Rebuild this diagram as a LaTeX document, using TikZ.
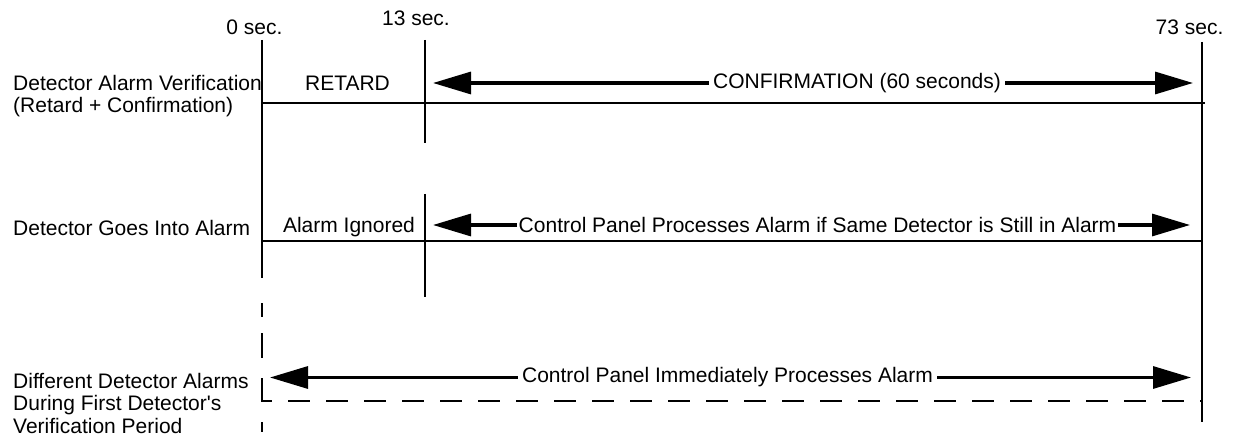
\documentclass[tikz,border=0pt]{standalone}
\usepackage{fontspec}
\setmainfont{Liberation Sans}
\usetikzlibrary{arrows.meta}
\begin{document}
\begin{tikzpicture}[x=1pt,y=-1pt,
  txt/.style={inner sep=0pt, font=\fontsize{21}{22.5}\selectfont},
  lbl/.style={txt, anchor=base west, align=left},
  tick/.style={txt, anchor=base},
  span/.style={txt, inner xsep=4pt, anchor=center},
  tline/.style={line width=2.3pt},
  dline/.style={line width=2.3pt, dash pattern=on 22pt off 16pt},
  arr/.style={line width=3.2pt, -{Triangle[length=38pt,width=22pt]}}]
\useasboundingbox (0,0) rectangle (1233,438);

% time marks
\node[tick] (t0)  at (254.5,35) {0 sec.};
\node[tick] (t13) at (416,26)   {13 sec.};
\node[tick] (t73) at (1189.5,35) {73 sec.};

% vertical lines
\coordinate (v0a) at (262,40);  \coordinate (v0b) at (262,278);
\coordinate (v0c) at (262,303); \coordinate (v0d) at (262,358);
\coordinate (v0g) at (262,378); \coordinate (c3) at (262,401);
\coordinate (h3c) at (272,401); \coordinate (h3d) at (288,401);
\coordinate (v0e) at (262,422); \coordinate (v0f) at (262,432);
\coordinate (v13a) at (425,40);  \coordinate (v13b) at (425,143);
\coordinate (v13c) at (425,194); \coordinate (v13d) at (425,297);
\coordinate (v73a) at (1202,42); \coordinate (v73b) at (1202,422);
\coordinate (h3e) at (1202,401);
\draw[tline] (v0a) -- (v0b);
\draw[tline, dash pattern=on 14pt off 16pt on 25pt off 100pt] (v0c) -- (v0d);
\draw[tline] (v0g) -- (c3) -- (h3c);
\draw[dline] (h3d) -- (h3e);
\draw[tline] (v0e) -- (v0f);
\draw[tline] (v13a) -- (v13b);
\draw[tline] (v13c) -- (v13d);
\draw[tline] (v73a) -- (v73b);

% row baselines
\coordinate (h1a) at (262,103); \coordinate (h1b) at (1205,103);
\coordinate (h2a) at (262,241); \coordinate (h2b) at (1202,241);
\draw[tline] (h1a) -- (h1b);
\draw[tline] (h2a) -- (h2b);

% row labels (base anchor = last line)
\node[lbl] (r1) at (13,113) {Detector Alarm Verification\\(Retard + Confirmation)};
\node[lbl] (r2) at (13,236) {Detector Goes Into Alarm};
\node[lbl] (r3) at (13,433) {Different Detector Alarms\\During First Detector\textquotesingle s\\Verification Period};

% row 1
\node[tick] (ret) at (347.5,90.5) {RETARD};
\node[span] (conf) at (857,83) {CONFIRMATION (60 seconds)};
\coordinate (a1l) at (433,83); \coordinate (a1r) at (1193,83);
\draw[arr] (conf.west) -- (a1l);
\draw[arr] (conf.east) -- (a1r);

% row 2
\node[tick] (ign) at (349,233) {Alarm Ignored};
\node[span, inner xsep=2pt] (proc) at (817.5,225) {Control Panel Processes Alarm if Same Detector is Still in Alarm};
\coordinate (a2l) at (433,225); \coordinate (a2r) at (1190,225);
\draw[arr] (proc.west) -- (a2l);
\draw[arr] (proc.east) -- (a2r);

% row 3
\node[span] (imm) at (727.5,377.5) {Control Panel Immediately Processes Alarm};
\coordinate (a3l) at (270,377.5); \coordinate (a3r) at (1191,377.5);
\draw[arr] (imm.west) -- (a3l);
\draw[arr] (imm.east) -- (a3r);
\end{tikzpicture}
\end{document}
